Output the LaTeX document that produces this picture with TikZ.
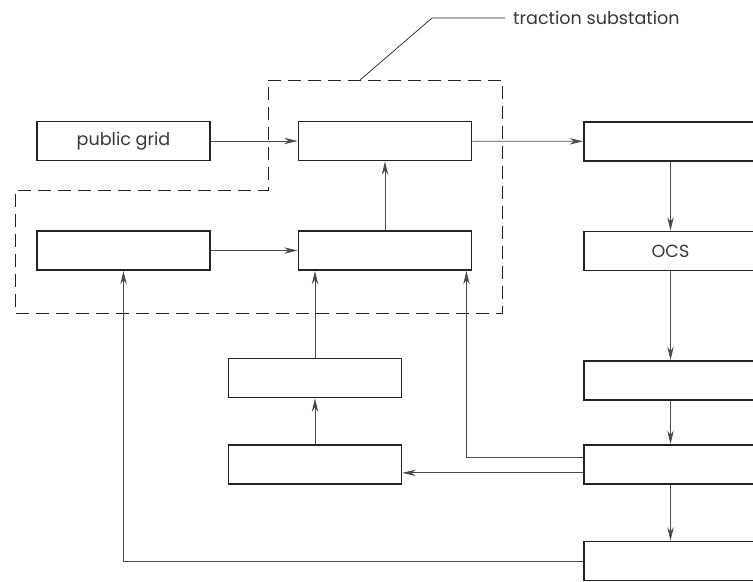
\documentclass[tikz,border=0pt]{standalone}
\usepackage{fontspec}
\setmainfont{Poppins}
\usepackage{tikz}
\usetikzlibrary{positioning,arrows.meta,calc}
\definecolor{boxline}{HTML}{222222}
\definecolor{wire}{HTML}{4A4A4A}
\tikzset{
  unit/.style    = {rectangle, draw=boxline, line width=1.6pt, fill=white,
                    minimum width=51.9mm, minimum height=11.7mm, inner sep=0pt,
                    align=center, font=\fontsize{15pt}{18pt}\selectfont, text=boxline!90},
  conn/.style    = {-{Stealth[length=4mm,width=1.9mm,inset=1.3mm]}, line width=0.6pt, draw=wire},
  frame/.style   = {dashed, dash pattern=on 3.9mm off 2.1mm, line width=0.7pt, draw=boxline},
  leader/.style  = {line width=0.6pt, draw=boxline},
}

\begin{document}
\begin{tikzpicture}[x=0.3mm,y=-0.3mm]
  \clip (0,0) rectangle (753,581);
  \useasboundingbox (0,0) rectangle (753,581);

  % substation frame
  \draw[frame] (268,80) -- (502,80) -- (502,313) -- (15,313) -- (15,190) -- (268,190) -- cycle;
  \coordinate (lead) at (360,80);
  \coordinate (knee) at (432,18);
  \node[anchor=west,inner ysep=2pt,inner xsep=2.4mm,font=\fontsize{15pt}{18pt}\selectfont,text=boxline!90] (lbl) at (505,18) {traction substation};
  \draw[leader] (lead) -- (knee) -- (lbl.west);

  % blocks
  \node[unit] (grid) at (123.5,141) {public grid};
  \node[unit] (sub)  at (385,141)   {};
  \node[unit] (trk)  at (670.5,141.5) {};
  \node[unit] (aux)  at (123.5,250.5) {};
  \node[unit] (rect) at (385,250.5) {};
  \node[unit] (ocs)  at (670.5,251) {OCS};
  \node[unit] (m3)   at (315,378)   {};
  \node[unit] (r3)   at (670.5,380.5) {};
  \node[unit] (m4)   at (315,464.5) {};
  \node[unit] (r4)   at (670.5,464.5) {};
  \node[unit] (r5)   at (670.5,561) {};

  % connectors
  \draw[conn] (grid) -- (sub);
  \draw[conn] (sub) -- (trk);
  \draw[conn] (aux) -- (rect);
  \draw[conn] (rect) -- (sub);
  \draw[conn] (trk) -- (ocs);
  \draw[conn] (ocs) -- (r3);
  \draw[conn] (r3) -- (r4);
  \draw[conn] (r4) -- (r5);
  \draw[conn] (m4) -- (m3);
  \draw[conn] (m3.north) -- (m3.north |- rect.south);
  \draw[conn] ([yshift=2.2mm]r4.west) -| ([xshift=-1.8mm]rect.south east);
  \draw[conn] ([yshift=-2.5mm]r4.west) -- ([yshift=-2.5mm]r4.west -| m4.east);
  \draw[conn] (r5.west) -| (aux.south);
\end{tikzpicture}
\end{document}
